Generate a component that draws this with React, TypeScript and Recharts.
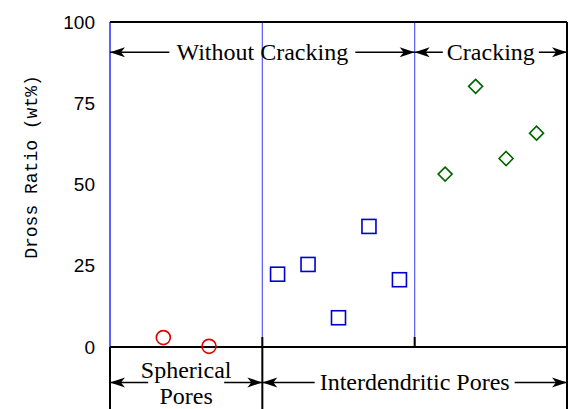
import React from "react";
import { ScatterChart, Scatter, XAxis, YAxis, ReferenceLine, Label } from "recharts";

// values
const sphericalX = [0.35, 0.65];
const sphericalY = [2.9, 0.2];
const interX = [1.1, 1.3, 1.5, 1.7, 1.9];
const interY = [22.4, 25.4, 9.0, 37.1, 20.7];
const crackX = [2.2, 2.4, 2.6, 2.8];
const crackY = [53.2, 80.2, 58.0, 65.8];

const yTicks = [0, 25, 50, 75, 100];
const dividers = [1, 2];
const extensions = [0, 1, 3];

const topArrows = [
  { from: 0, to: 2, y: 90.7, lines: ["Without Cracking"], gap: 93 },
  { from: 2, to: 3, y: 90.7, lines: ["Cracking"], gap: 48 },
];
const bottomArrows = [
  { from: 0, to: 1, y: -10.9, lines: ["Spherical", "Pores"], gap: 38 },
  { from: 1, to: 3, y: -10.9, lines: ["Interdendritic Pores"], gap: 100 },
];

const toPoints = (xs: number[], ys: number[]) => xs.map((x, i) => ({ x, y: ys[i] }));
const spherical = toPoints(sphericalX, sphericalY);
const interdendritic = toPoints(interX, interY);
const cracking = toPoints(crackX, crackY);

const serif = "'Liberation Serif', 'Times New Roman', serif";
const sans = "'Liberation Sans', Arial, sans-serif";
const mono = "'Liberation Mono', 'Courier New', monospace";

const head = (x: number, y: number, dir: number) =>
  `${x},${y} ${x - dir * 15},${y - 5} ${x - dir * 11},${y} ${x - dir * 15},${y + 5}`;

const arrowShape = (lines: string[], gap: number) => (p: any) => {
  const { x1, y1, x2 } = p;
  const cx = (x1 + x2) / 2;
  return (
    <g>
      <line x1={x1} y1={y1} x2={cx - gap} y2={y1} stroke="#000" strokeWidth={1.5} />
      <line x1={cx + gap} y1={y1} x2={x2} y2={y1} stroke="#000" strokeWidth={1.5} />
      <polygon points={head(x1, y1, -1)} fill="#000" />
      <polygon points={head(x2, y1, 1)} fill="#000" />
      {lines.length === 1 ? (
        <text x={cx} y={y1} textAnchor="middle" dominantBaseline="central" fontFamily={serif} fontSize={24} fill="#000">
          {lines[0]}
        </text>
      ) : (
        lines.map((t, i) => (
          <text key={t} x={cx} y={y1 - 12 + i * 26} textAnchor="middle" dominantBaseline="central" fontFamily={serif} fontSize={24} fill="#000">
            {t}
          </text>
        ))
      )}
    </g>
  );
};

const Circle = (p: any) => <circle cx={p.cx} cy={p.cy} r={7} fill="none" stroke="#e00000" strokeWidth={1.6} />;
const Square = (p: any) => (
  <rect x={p.cx - 7} y={p.cy - 7} width={14} height={14} fill="none" stroke="#0000cc" strokeWidth={1.6} />
);
const Diamond = (p: any) => (
  <polygon
    points={`${p.cx},${p.cy - 7} ${p.cx + 7},${p.cy} ${p.cx},${p.cy + 7} ${p.cx - 7},${p.cy}`}
    fill="none"
    stroke="#006400"
    strokeWidth={1.6}
  />
);

export default function App() {
  return (
    <div style={{ position: "absolute", left: 0, top: 0, background: "#fff" }}>
      <ScatterChart width={568} height={409} margin={{ top: 22, right: 1, bottom: 62, left: 0 }}>
        <XAxis type="number" dataKey="x" xAxisId="b" domain={[0, 3]} ticks={dividers} mirror
          axisLine={{ stroke: "#000", strokeWidth: 2 }} tickLine={{ stroke: "#000", strokeWidth: 2 }} tickSize={10} tick={{ fill: "none" }} />
        <XAxis type="number" xAxisId="t" orientation="top" domain={[0, 3]} ticks={dividers} mirror
          axisLine={{ stroke: "#000", strokeWidth: 2 }} tickLine={{ stroke: "#000", strokeWidth: 2 }} tickSize={10} tick={{ fill: "none" }} />
        <YAxis type="number" dataKey="y" yAxisId="l" domain={[0, 100]} ticks={yTicks} width={110}
          axisLine={false} tickLine={false} tickSize={0} tickMargin={15}
          tick={{ fill: "#000", fontSize: 19, fontFamily: sans }}>
          <Label
            position="center"
            content={() => (
              <text transform="translate(32,167) rotate(-90)" textAnchor="middle" dominantBaseline="central"
                fontFamily={mono} fontSize={18} fill="#000">
                Dross Ratio (wt%)
              </text>
            )}
          />
        </YAxis>
        <YAxis type="number" yAxisId="li" domain={[0, 100]} ticks={[0, 25, 50, 75]} mirror
          axisLine={false} tickLine={{ stroke: "#000", strokeWidth: 2 }} tickSize={10} tick={{ fill: "none" }} />
        <YAxis type="number" yAxisId="r" orientation="right" domain={[0, 100]} ticks={[0, 25, 50, 75]} mirror
          axisLine={{ stroke: "#000", strokeWidth: 2 }} tickLine={{ stroke: "#000", strokeWidth: 2 }} tickSize={10} tick={{ fill: "none" }} />

        <ReferenceLine xAxisId="b" yAxisId="l" x={0} stroke="#2a2aff" strokeWidth={1.5} />
        {dividers.map((d) => (
          <ReferenceLine key={`d${d}`} xAxisId="b" yAxisId="l" x={d} stroke="#5a5af5" strokeWidth={1.2} />
        ))}
        {extensions.map((e) => (
          <ReferenceLine key={`e${e}`} xAxisId="b" yAxisId="l" ifOverflow="visible"
            segment={[{ x: e, y: 0 }, { x: e, y: -19.3 }]} stroke="#000" strokeWidth={2} />
        ))}
        {[...topArrows, ...bottomArrows].map((a) => (
          <ReferenceLine key={a.lines.join()} xAxisId="b" yAxisId="l" ifOverflow="visible"
            segment={[{ x: a.from, y: a.y }, { x: a.to, y: a.y }]} shape={arrowShape(a.lines, a.gap)} />
        ))}

        <Scatter xAxisId="b" yAxisId="l" data={spherical} shape={Circle} isAnimationActive={false} />
        <Scatter xAxisId="b" yAxisId="l" data={interdendritic} shape={Square} isAnimationActive={false} />
        <Scatter xAxisId="b" yAxisId="l" data={cracking} shape={Diamond} isAnimationActive={false} />
      </ScatterChart>
    </div>
  );
}
